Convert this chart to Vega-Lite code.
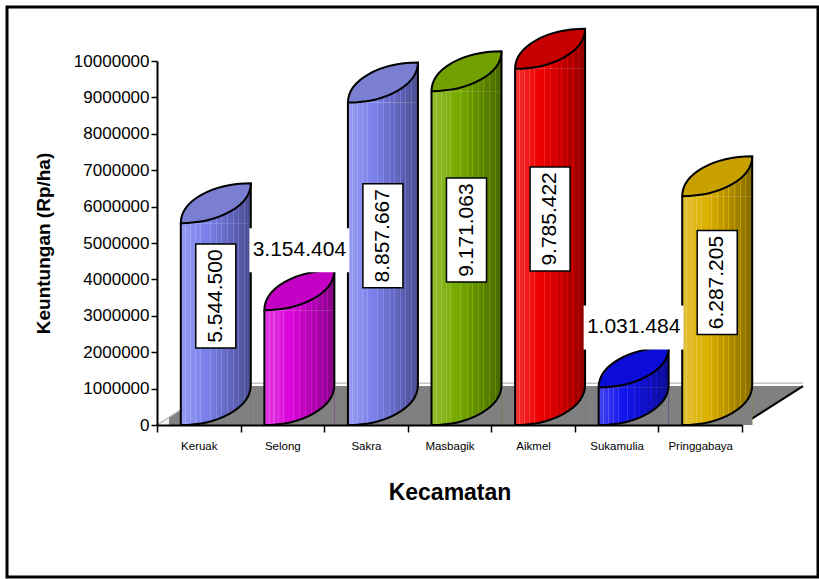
{
  "$schema": "https://vega.github.io/schema/vega-lite/v6.json",
  "width": 811,
  "height": 570,
  "autosize": {"type": "none"},
  "padding": {"left": 7, "top": 7, "right": 1, "bottom": 2},
  "background": "white",
  "config": {
    "view": {"stroke": "black", "strokeWidth": 3},
    "font": "Liberation Sans",
    "locale": {"number": {"decimal": ",", "thousands": ".", "grouping": [3], "currency": ["Rp", ""]}}
  },
  "datasets": {
    "main": [
      {"kecamatan": "Keruak", "keuntungan": 5544500},
      {"kecamatan": "Selong", "keuntungan": 3154404},
      {"kecamatan": "Sakra", "keuntungan": 8857667},
      {"kecamatan": "Masbagik", "keuntungan": 9171063},
      {"kecamatan": "Aikmel", "keuntungan": 9785422},
      {"kecamatan": "Sukamulia", "keuntungan": 1031484},
      {"kecamatan": "Pringgabaya", "keuntungan": 6287205}
    ],
    "floor": [
      {"u": 0, "lo": 0, "hi": 0},
      {"u": 0.73, "lo": 0, "hi": 1070000},
      {"u": 7, "lo": 0, "hi": 1070000},
      {"u": 7.73, "lo": 1070000, "hi": 1070000}
    ],
    "floorBack": [
      {"u": 0.73, "v": 1150000},
      {"u": 7.73, "v": 1150000}
    ],
    "floorLeft": [
      {"u": 0, "v": 0},
      {"u": 0.73, "v": 1070000}
    ],
    "floorRight": [
      {"u": 7, "v": 0},
      {"u": 7.73, "v": 1070000}
    ]
  },
  "layer": [
    {
      "layer": [
        {
          "data": {"name": "floor"},
          "mark": {
            "type": "area", "opacity": 1, "interpolate": "linear",
            "fill": {"gradient": "linear", "x1": 0, "y1": 0, "x2": 1, "y2": 0, "stops": [
              {"offset": 0, "color": "#f4f4f4"}, {"offset": 0.018, "color": "#f4f4f4"}, {"offset": 0.0185, "color": "#808080"}, {"offset": 1, "color": "#808080"}
            ]}
          },
          "encoding": {
            "x": {"field": "u", "type": "quantitative", "scale": {"domain": [0, 7], "range": [150, 735], "nice": false, "zero": false}, "axis": null},
            "y": {"field": "hi", "type": "quantitative", "scale": {"domain": [0, 10000000], "range": [418, 54], "nice": false}, "axis": null},
            "y2": {"field": "lo"}
          }
        },
        {
          "data": {"name": "floorBack"},
          "mark": {"type": "line", "color": "#c4c4c4", "strokeWidth": 1.5},
          "encoding": {
            "x": {"field": "u", "type": "quantitative"},
            "y": {"field": "v", "type": "quantitative"}
          }
        },
        {
          "data": {"name": "floorLeft"},
          "mark": {"type": "line", "color": "#b8b8b8", "strokeWidth": 1.2},
          "encoding": {
            "x": {"field": "u", "type": "quantitative"},
            "y": {"field": "v", "type": "quantitative"}
          }
        },
        {
          "data": {"name": "floorRight"},
          "mark": {"type": "line", "color": "black", "strokeWidth": 2},
          "encoding": {
            "x": {"field": "u", "type": "quantitative"},
            "y": {"field": "v", "type": "quantitative"}
          }
        }
      ]
    },
    {
      "data": {"name": "main"},
      "encoding": {
        "x": {
          "field": "kecamatan", "type": "nominal", "sort": null,
          "scale": {"domain": ["Keruak", "Selong", "Sakra", "Masbagik", "Aikmel", "Sukamulia", "Pringgabaya"], "range": [150, 735], "paddingInner": 0, "paddingOuter": 0},
          "axis": {
            "orient": "bottom", "offset": -152, "tickBand": "extent", "tickSize": 7, "tickColor": "black", "tickWidth": 1.5,
            "domainColor": "black", "domainWidth": 2, "labelFontSize": 11.5, "labelColor": "black", "labelAngle": 0,
            "labelPadding": 8, "title": "Kecamatan", "titleFontSize": 23, "titleFontWeight": "bold", "titleColor": "black",
            "titlePadding": 30, "zindex": 1, "grid": false
          }
        },
        "y": {
          "field": "keuntungan", "type": "quantitative",
          "scale": {"domain": [0, 10000000], "range": [418, 54], "nice": false},
          "axis": {
            "orient": "left",
            "values": [0, 1000000, 2000000, 3000000, 4000000, 5000000, 6000000, 7000000, 8000000, 9000000, 10000000],
            "format": "d", "offset": -150, "domainColor": "black", "domainWidth": 2, "tickColor": "black", "tickWidth": 1.5,
            "tickSize": 6, "labelFontSize": 17, "labelColor": "black", "labelPadding": 2, "grid": false,
            "title": "Keuntungan (Rp/ha)", "titleFontSize": 19, "titleFontWeight": "bold", "titleColor": "black",
            "titlePadding": 20, "zindex": 1
          }
        }
      },
      "layer": [
        {
          "mark": {"type": "bar", "width": 70, "xOffset": 17, "opacity": 1},
          "encoding": {
            "color": {
              "field": "kecamatan", "type": "nominal", "legend": null,
              "scale": {
                "domain": ["Keruak", "Selong", "Sakra", "Masbagik", "Aikmel", "Sukamulia", "Pringgabaya"],
                "range": ["#7c82ec", "#dc08dc", "#7c82ec", "#78ac00", "#f00000", "#1414f0", "#dcb100"]
              }
            }
          }
        },
        {
          "mark": {"type": "point", "shape": "M -1 0 L 1 0 L 1 -1.143 A 2 1.143 0 0 1 -1 0 Z", "size": 4900, "filled": true, "opacity": 1, "xOffset": 17, "strokeWidth": 0},
          "encoding": {
            "color": {"field": "kecamatan", "type": "nominal", "legend": null}
          }
        },
        {
          "mark": {
            "type": "bar", "width": 70, "xOffset": 17, "opacity": 1,
            "fill": {"gradient": "linear", "x1": 0, "y1": 0, "x2": 1, "y2": 0, "stops": [
              {"offset": 0, "color": "rgba(255,255,255,0.2)"},
              {"offset": 0.06, "color": "rgba(255,255,255,0.166)"}, {"offset": 0.0605, "color": "rgba(255,255,255,0.32)"}, {"offset": 0.075, "color": "rgba(255,255,255,0.31)"}, {"offset": 0.0755, "color": "rgba(255,255,255,0.159)"},
              {"offset": 0.13, "color": "rgba(255,255,255,0.126)"}, {"offset": 0.1305, "color": "rgba(255,255,255,0.28)"}, {"offset": 0.145, "color": "rgba(255,255,255,0.27)"}, {"offset": 0.1455, "color": "rgba(255,255,255,0.119)"},
              {"offset": 0.2, "color": "rgba(255,255,255,0.086)"}, {"offset": 0.2005, "color": "rgba(255,255,255,0.24)"}, {"offset": 0.215, "color": "rgba(255,255,255,0.23)"}, {"offset": 0.2155, "color": "rgba(255,255,255,0.079)"},
              {"offset": 0.27, "color": "rgba(255,255,255,0.046)"}, {"offset": 0.2705, "color": "rgba(255,255,255,0.2)"}, {"offset": 0.285, "color": "rgba(255,255,255,0.19)"}, {"offset": 0.2855, "color": "rgba(255,255,255,0.039)"},
              {"offset": 0.35, "color": "rgba(0,0,0,0)"},
              {"offset": 0.41, "color": "rgba(0,0,0,0.037)"}, {"offset": 0.4105, "color": "rgba(255,255,255,0.12)"}, {"offset": 0.425, "color": "rgba(255,255,255,0.12)"}, {"offset": 0.4255, "color": "rgba(0,0,0,0.044)"},
              {"offset": 0.5, "color": "rgba(0,0,0,0.092)"}, {"offset": 0.5005, "color": "rgba(255,255,255,0.06)"}, {"offset": 0.515, "color": "rgba(255,255,255,0.06)"}, {"offset": 0.5155, "color": "rgba(0,0,0,0.1)"},
              {"offset": 0.58, "color": "rgba(0,0,0,0.142)"}, {"offset": 0.5805, "color": "rgba(0,0,0,0)"}, {"offset": 0.595, "color": "rgba(0,0,0,0)"}, {"offset": 0.5955, "color": "rgba(0,0,0,0.149)"},
              {"offset": 0.66, "color": "rgba(0,0,0,0.191)"}, {"offset": 0.6605, "color": "rgba(0,0,0,0.03)"}, {"offset": 0.675, "color": "rgba(0,0,0,0.03)"}, {"offset": 0.6755, "color": "rgba(0,0,0,0.198)"},
              {"offset": 0.74, "color": "rgba(0,0,0,0.24)"}, {"offset": 0.7405, "color": "rgba(0,0,0,0.08)"}, {"offset": 0.755, "color": "rgba(0,0,0,0.08)"}, {"offset": 0.7555, "color": "rgba(0,0,0,0.247)"},
              {"offset": 0.82, "color": "rgba(0,0,0,0.289)"}, {"offset": 0.8205, "color": "rgba(0,0,0,0.13)"}, {"offset": 0.835, "color": "rgba(0,0,0,0.13)"}, {"offset": 0.8355, "color": "rgba(0,0,0,0.297)"},
              {"offset": 0.9, "color": "rgba(0,0,0,0.338)"}, {"offset": 0.9005, "color": "rgba(0,0,0,0.18)"}, {"offset": 0.915, "color": "rgba(0,0,0,0.18)"}, {"offset": 0.9155, "color": "rgba(0,0,0,0.346)"},
              {"offset": 1, "color": "rgba(0,0,0,0.4)"}
            ]}
          }
        },
        {
          "mark": {
            "type": "point", "shape": "M -1 0 L 1 0 L 1 -1.143 A 2 1.143 0 0 1 -1 0 Z", "size": 4900, "filled": true, "opacity": 1, "xOffset": 17, "strokeWidth": 0,
            "fill": {"gradient": "linear", "x1": 0, "y1": 0, "x2": 1, "y2": 0, "stops": [
              {"offset": 0, "color": "rgba(255,255,255,0.2)"},
              {"offset": 0.06, "color": "rgba(255,255,255,0.166)"}, {"offset": 0.0605, "color": "rgba(255,255,255,0.32)"}, {"offset": 0.075, "color": "rgba(255,255,255,0.31)"}, {"offset": 0.0755, "color": "rgba(255,255,255,0.159)"},
              {"offset": 0.13, "color": "rgba(255,255,255,0.126)"}, {"offset": 0.1305, "color": "rgba(255,255,255,0.28)"}, {"offset": 0.145, "color": "rgba(255,255,255,0.27)"}, {"offset": 0.1455, "color": "rgba(255,255,255,0.119)"},
              {"offset": 0.2, "color": "rgba(255,255,255,0.086)"}, {"offset": 0.2005, "color": "rgba(255,255,255,0.24)"}, {"offset": 0.215, "color": "rgba(255,255,255,0.23)"}, {"offset": 0.2155, "color": "rgba(255,255,255,0.079)"},
              {"offset": 0.27, "color": "rgba(255,255,255,0.046)"}, {"offset": 0.2705, "color": "rgba(255,255,255,0.2)"}, {"offset": 0.285, "color": "rgba(255,255,255,0.19)"}, {"offset": 0.2855, "color": "rgba(255,255,255,0.039)"},
              {"offset": 0.35, "color": "rgba(0,0,0,0)"},
              {"offset": 0.41, "color": "rgba(0,0,0,0.037)"}, {"offset": 0.4105, "color": "rgba(255,255,255,0.12)"}, {"offset": 0.425, "color": "rgba(255,255,255,0.12)"}, {"offset": 0.4255, "color": "rgba(0,0,0,0.044)"},
              {"offset": 0.5, "color": "rgba(0,0,0,0.092)"}, {"offset": 0.5005, "color": "rgba(255,255,255,0.06)"}, {"offset": 0.515, "color": "rgba(255,255,255,0.06)"}, {"offset": 0.5155, "color": "rgba(0,0,0,0.1)"},
              {"offset": 0.58, "color": "rgba(0,0,0,0.142)"}, {"offset": 0.5805, "color": "rgba(0,0,0,0)"}, {"offset": 0.595, "color": "rgba(0,0,0,0)"}, {"offset": 0.5955, "color": "rgba(0,0,0,0.149)"},
              {"offset": 0.66, "color": "rgba(0,0,0,0.191)"}, {"offset": 0.6605, "color": "rgba(0,0,0,0.03)"}, {"offset": 0.675, "color": "rgba(0,0,0,0.03)"}, {"offset": 0.6755, "color": "rgba(0,0,0,0.198)"},
              {"offset": 0.74, "color": "rgba(0,0,0,0.24)"}, {"offset": 0.7405, "color": "rgba(0,0,0,0.08)"}, {"offset": 0.755, "color": "rgba(0,0,0,0.08)"}, {"offset": 0.7555, "color": "rgba(0,0,0,0.247)"},
              {"offset": 0.82, "color": "rgba(0,0,0,0.289)"}, {"offset": 0.8205, "color": "rgba(0,0,0,0.13)"}, {"offset": 0.835, "color": "rgba(0,0,0,0.13)"}, {"offset": 0.8355, "color": "rgba(0,0,0,0.297)"},
              {"offset": 0.9, "color": "rgba(0,0,0,0.338)"}, {"offset": 0.9005, "color": "rgba(0,0,0,0.18)"}, {"offset": 0.915, "color": "rgba(0,0,0,0.18)"}, {"offset": 0.9155, "color": "rgba(0,0,0,0.346)"},
              {"offset": 1, "color": "rgba(0,0,0,0.4)"}
            ]}
          }
        },
        {
          "mark": {"type": "point", "shape": "M 1 -1.143 A 2 1.143 0 0 1 -1 0 L 1 0 Z", "size": 4900, "filled": true, "opacity": 1, "xOffset": 17, "color": "#808080", "strokeWidth": 0},
          "encoding": {"y": {"datum": 0}}
        },
        {
          "mark": {"type": "point", "shape": "M 1 -1.143 A 2 1.143 0 0 1 -1 0", "size": 4900, "filled": false, "opacity": 1, "xOffset": 17, "color": "black", "strokeWidth": 2},
          "encoding": {"y": {"datum": 0}}
        },
        {
          "mark": {"type": "rule", "xOffset": -18, "strokeWidth": 2, "color": "black"},
          "encoding": {"y2": {"datum": 0}}
        },
        {
          "mark": {"type": "rule", "xOffset": 52, "yOffset": -40, "y2Offset": -40, "strokeWidth": 2, "color": "black"},
          "encoding": {"y2": {"datum": 0}}
        },
        {
          "mark": {"type": "point", "shape": "M -1 0 A 2 1.143 0 0 1 1 -1.143 A 2 1.143 0 0 1 -1 0 Z", "size": 4900, "filled": true, "opacity": 1, "xOffset": 17, "stroke": "black", "strokeWidth": 2},
          "encoding": {
            "fill": {
              "field": "kecamatan", "type": "nominal", "legend": null,
              "scale": {
                "domain": ["Keruak", "Selong", "Sakra", "Masbagik", "Aikmel", "Sukamulia", "Pringgabaya"],
                "range": ["#7b7fd2", "#c400c4", "#7b7fd2", "#72a000", "#c60000", "#0c0cd8", "#c8a000"]
              }
            }
          }
        },
        {
          "transform": [{"filter": "datum.keuntungan < 4000000"}],
          "mark": {"type": "point", "shape": "M -1 -0.44 L 1 -0.44 L 1 0.44 L -1 0.44 Z", "size": 10000, "filled": true, "opacity": 1, "fill": "white", "strokeWidth": 0, "xOffset": 17, "yOffset": -60}
        },
        {
          "transform": [{"filter": "datum.keuntungan < 4000000"}],
          "mark": {"type": "text", "xOffset": 17, "yOffset": -60, "fontSize": 21, "align": "center", "baseline": "middle", "color": "black"},
          "encoding": {"text": {"field": "keuntungan", "type": "quantitative", "format": ","}}
        }
      ]
    },
    {
      "data": {"name": "main"},
      "transform": [{"filter": "datum.keuntungan >= 4000000"}],
      "encoding": {
        "x": {
          "field": "kecamatan", "type": "nominal", "sort": null,
          "scale": {"domain": ["Keruak", "Selong", "Sakra", "Masbagik", "Aikmel", "Sukamulia", "Pringgabaya"], "range": [150, 735], "paddingInner": 0, "paddingOuter": 0},
          "axis": null
        },
        "y": {
          "field": "keuntungan", "type": "quantitative",
          "scale": {"domain": [0, 20000000], "range": [418, 54], "nice": false},
          "axis": null
        }
      },
      "layer": [
        {
          "mark": {"type": "point", "shape": "M -0.385 -1 L 0.385 -1 L 0.385 1 L -0.385 1 Z", "size": 10816, "filled": true, "opacity": 1, "fill": "white", "stroke": "black", "strokeWidth": 1.5, "xOffset": 17, "yOffset": -28}
        },
        {
          "mark": {"type": "text", "angle": 270, "fontSize": 21, "xOffset": 17, "yOffset": -28, "align": "center", "baseline": "middle", "color": "black"},
          "encoding": {"text": {"field": "keuntungan", "type": "quantitative", "format": ","}}
        }
      ]
    }
  ],
  "resolve": {
    "scale": {"x": "independent", "y": "independent", "color": "independent", "fill": "independent"},
    "axis": {"x": "independent", "y": "independent"}
  }
}
